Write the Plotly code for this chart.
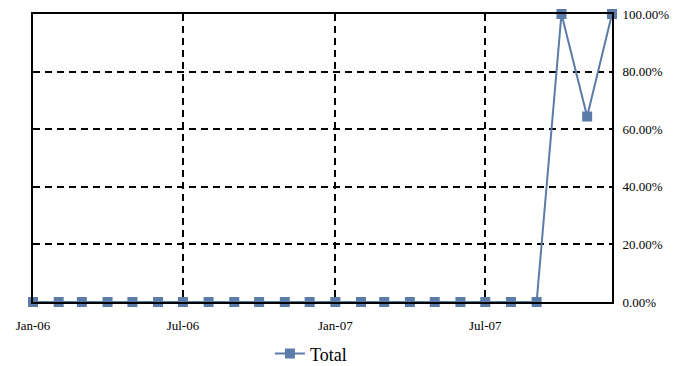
import plotly.graph_objects as go
import pandas as pd

months = pd.date_range("2006-01-01", "2007-12-01", freq="MS")
values = [0]*21 + [1.0, 0.644, 1.0]
series_name = "Total"
tick_dates = ["2006-01-01", "2006-07-01", "2007-01-01", "2007-07-01"]
tick_labels = ["Jan-06", "Jul-06", "Jan-07", "Jul-07"]
y_ticks = [0, 0.2, 0.4, 0.6, 0.8, 1.0]

color = "#5B7BA8"
fig = go.Figure()
fig.add_trace(go.Scatter(
    x=months, y=values, name=series_name, mode="lines+markers",
    line=dict(color=color, width=2),
    marker=dict(symbol="square", size=10, color=color),
    cliponaxis=False,
))

font = dict(family="Liberation Serif, Times New Roman, serif", color="black")
fig.update_layout(
    width=683, height=366,
    margin=dict(l=33, r=71, t=14, b=64, autoexpand=False),
    paper_bgcolor="white", plot_bgcolor="white",
    font=dict(size=12, **font),
    showlegend=True,
    legend=dict(orientation="h", x=0.48, xanchor="center",
                yref="container", y=0.033, yanchor="middle",
                font=dict(size=18, **font), bgcolor="rgba(0,0,0,0)"),
)
fig.update_xaxes(
    range=[months[0], months[-1]], automargin=False,
    tickvals=tick_dates, ticktext=tick_labels,
    showgrid=True, gridcolor="black", griddash="7px,5px", gridwidth=1.6,
    showline=True, linecolor="black", linewidth=2, mirror=True,
    ticks="", ticklabelstandoff=10, tickfont=dict(size=13, **font), zeroline=False,
)
fig.update_yaxes(
    range=[0, 1], side="right", automargin=False,
    tickvals=y_ticks, tickformat=".2%",
    showgrid=True, gridcolor="black", griddash="7px,5px", gridwidth=1.6,
    showline=True, linecolor="black", linewidth=2, mirror=True,
    ticks="", ticklabelstandoff=6, tickfont=dict(size=13, **font), zeroline=False,
)
fig.write_html("out.html", config={"displayModeBar": False},
               post_script="document.body.style.margin='0';")
